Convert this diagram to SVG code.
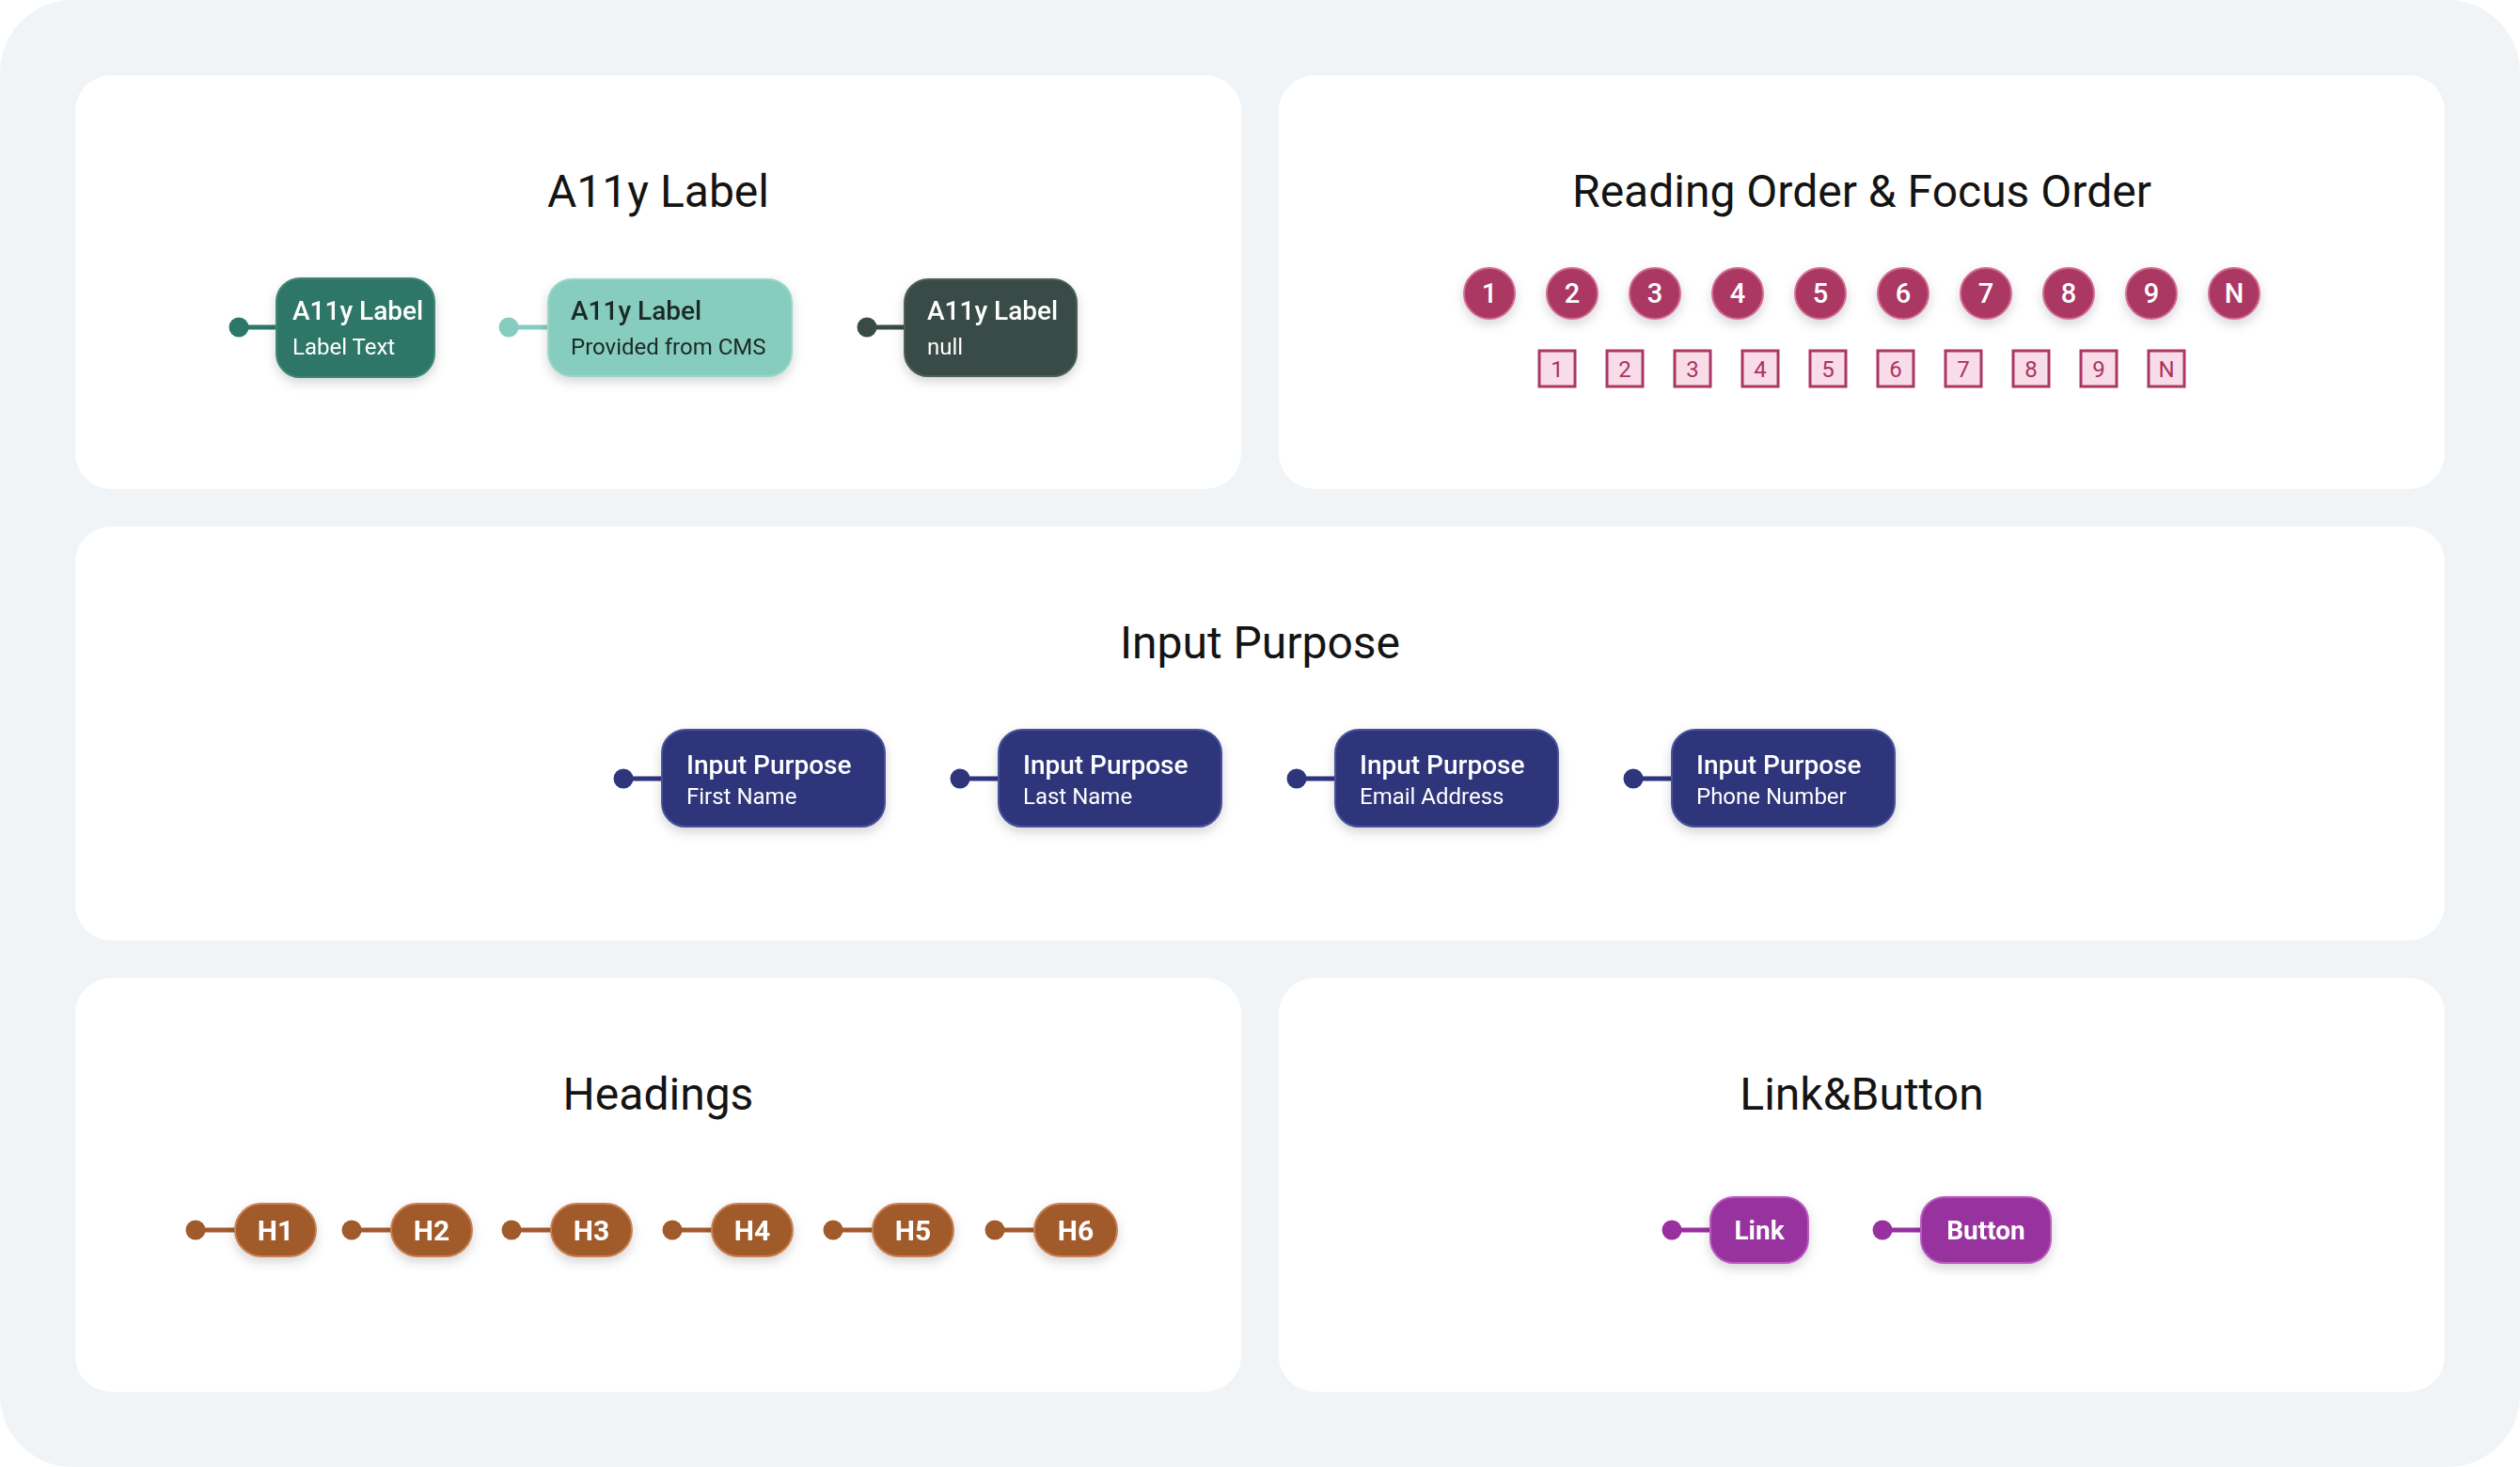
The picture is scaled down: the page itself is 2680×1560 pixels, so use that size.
<svg xmlns="http://www.w3.org/2000/svg" width="2680" height="1560" viewBox="0 0 2680 1560">
  <defs>
    <filter id="sh" x="-30%" y="-30%" width="160%" height="180%">
      <feDropShadow dx="0" dy="5" stdDeviation="6" flood-color="#000" flood-opacity="0.16"/>
    </filter>
    <style>
      .panel { fill: #FFFFFF; }
      .title { font-family: Roboto, "Liberation Sans", sans-serif; font-size: 48px; font-weight: 400; fill: #141414; text-anchor: middle; }
      .nt { font-family: Roboto, "Liberation Sans", sans-serif; font-size: 28px; font-weight: 500; }
      .ns { font-family: Roboto, "Liberation Sans", sans-serif; font-size: 24px; font-weight: 400; }
      .w { fill: #FFFFFF; }
      .circ { fill: #AA3764; stroke: #D36C92; stroke-width: 2; }
      .circt { font-family: Roboto, "Liberation Sans", sans-serif; font-size: 29px; font-weight: 500; fill: #FFFFFF; text-anchor: middle; }
      .sq { fill: #F8DDE8; stroke: #AA3764; stroke-width: 3; }
      .sqt { font-family: Roboto, "Liberation Sans", sans-serif; font-size: 24px; font-weight: 400; fill: #A8345F; text-anchor: middle; }
      .ip { fill: #2E357A; stroke: #4A529C; stroke-width: 2; }
      .hd { fill: #A15A2B; stroke: #C98052; stroke-width: 2; }
      .hdt { font-family: Roboto, "Liberation Sans", sans-serif; font-size: 30px; font-weight: 700; fill: #FFFFFF; text-anchor: middle; }
      .lb { fill: #98309F; stroke: #B95CBE; stroke-width: 2; }
      .lbt { font-family: Roboto, "Liberation Sans", sans-serif; font-size: 28px; font-weight: 700; fill: #FFFFFF; text-anchor: middle; }
    </style>
  </defs>

  <rect x="0" y="0" width="2680" height="1560" rx="77" fill="#F1F4F7"/>

  <!-- panels -->
  <rect class="panel" x="80" y="80" width="1240" height="440" rx="38"/>
  <rect class="panel" x="1360" y="80" width="1240" height="440" rx="38"/>
  <rect class="panel" x="80" y="560" width="2520" height="440" rx="38"/>
  <rect class="panel" x="80" y="1040" width="1240" height="440" rx="38"/>
  <rect class="panel" x="1360" y="1040" width="1240" height="440" rx="38"/>

  <text class="title" x="700" y="220">A11y Label</text>
  <text class="title" x="1980" y="220">Reading Order &amp; Focus Order</text>
  <text class="title" x="1340" y="700">Input Purpose</text>
  <text class="title" x="700" y="1180">Headings</text>
  <text class="title" x="1980" y="1180">Link&amp;Button</text>

  <!-- connectors -->
  <g id="connectors" stroke-width="5" stroke-linecap="round">
    <line x1="254" y1="348" x2="296" y2="348" stroke="#2D7768"/>
    <circle cx="254" cy="348" r="10.5" fill="#2D7768" stroke="none"/>
    <line x1="541" y1="348" x2="585" y2="348" stroke="#86CDBF"/>
    <circle cx="541" cy="348" r="10.5" fill="#86CDBF" stroke="none"/>
    <line x1="922" y1="348" x2="964" y2="348" stroke="#394B46"/>
    <circle cx="922" cy="348" r="10.5" fill="#394B46" stroke="none"/>

    <line x1="663" y1="828" x2="706" y2="828" stroke="#2E357A"/>
    <circle cx="663" cy="828" r="10.5" fill="#2E357A" stroke="none"/>
    <line x1="1021" y1="828" x2="1064" y2="828" stroke="#2E357A"/>
    <circle cx="1021" cy="828" r="10.5" fill="#2E357A" stroke="none"/>
    <line x1="1379" y1="828" x2="1422" y2="828" stroke="#2E357A"/>
    <circle cx="1379" cy="828" r="10.5" fill="#2E357A" stroke="none"/>
    <line x1="1737" y1="828" x2="1780" y2="828" stroke="#2E357A"/>
    <circle cx="1737" cy="828" r="10.5" fill="#2E357A" stroke="none"/>

    <line x1="208" y1="1308" x2="252" y2="1308" stroke="#A15A2B"/>
    <circle cx="208" cy="1308" r="10.5" fill="#A15A2B" stroke="none"/>
    <line x1="374" y1="1308" x2="418" y2="1308" stroke="#A15A2B"/>
    <circle cx="374" cy="1308" r="10.5" fill="#A15A2B" stroke="none"/>
    <line x1="544" y1="1308" x2="588" y2="1308" stroke="#A15A2B"/>
    <circle cx="544" cy="1308" r="10.5" fill="#A15A2B" stroke="none"/>
    <line x1="715" y1="1308" x2="759" y2="1308" stroke="#A15A2B"/>
    <circle cx="715" cy="1308" r="10.5" fill="#A15A2B" stroke="none"/>
    <line x1="886" y1="1308" x2="930" y2="1308" stroke="#A15A2B"/>
    <circle cx="886" cy="1308" r="10.5" fill="#A15A2B" stroke="none"/>
    <line x1="1058" y1="1308" x2="1102" y2="1308" stroke="#A15A2B"/>
    <circle cx="1058" cy="1308" r="10.5" fill="#A15A2B" stroke="none"/>

    <line x1="1778" y1="1308" x2="1821" y2="1308" stroke="#98309F"/>
    <circle cx="1778" cy="1308" r="10.5" fill="#98309F" stroke="none"/>
    <line x1="2002" y1="1308" x2="2045" y2="1308" stroke="#98309F"/>
    <circle cx="2002" cy="1308" r="10.5" fill="#98309F" stroke="none"/>
  </g>

  <!-- A11y Label nodes -->
  <g id="a11y-1" filter="url(#sh)">
    <rect x="294" y="296" width="168" height="105" rx="25" fill="#2D7768" stroke="#3F8777" stroke-width="2"/>
    <text class="nt w" x="311" y="340">A11y Label</text>
    <text class="ns w" x="311" y="377">Label Text</text>
  </g>
  <g id="a11y-2" filter="url(#sh)">
    <rect x="583" y="297" width="259" height="103" rx="25" fill="#86CDBF" stroke="#9AD7CA" stroke-width="2"/>
    <text class="nt" x="607" y="340" fill="#1B2925">A11y Label</text>
    <text class="ns" x="607" y="377" fill="#1B2925">Provided from CMS</text>
  </g>
  <g id="a11y-3" filter="url(#sh)">
    <rect x="962" y="297" width="183" height="103" rx="25" fill="#394B46" stroke="#4D5E59" stroke-width="2"/>
    <text class="nt w" x="986" y="340">A11y Label</text>
    <text class="ns w" x="986" y="377">null</text>
  </g>

  <!-- Reading order circles -->
  <g id="reading-order">
    <g filter="url(#sh)">
      <circle class="circ" cx="1584" cy="312" r="27"/>
      <circle class="circ" cx="1672" cy="312" r="27"/>
      <circle class="circ" cx="1760" cy="312" r="27"/>
      <circle class="circ" cx="1848" cy="312" r="27"/>
      <circle class="circ" cx="1936" cy="312" r="27"/>
      <circle class="circ" cx="2024" cy="312" r="27"/>
      <circle class="circ" cx="2112" cy="312" r="27"/>
      <circle class="circ" cx="2200" cy="312" r="27"/>
      <circle class="circ" cx="2288" cy="312" r="27"/>
      <circle class="circ" cx="2376" cy="312" r="27"/>
    </g>
    <text class="circt" x="1584" y="322">1</text>
    <text class="circt" x="1672" y="322">2</text>
    <text class="circt" x="1760" y="322">3</text>
    <text class="circt" x="1848" y="322">4</text>
    <text class="circt" x="1936" y="322">5</text>
    <text class="circt" x="2024" y="322">6</text>
    <text class="circt" x="2112" y="322">7</text>
    <text class="circt" x="2200" y="322">8</text>
    <text class="circt" x="2288" y="322">9</text>
    <text class="circt" x="2376" y="322">N</text>
  </g>
  <g id="focus-order">
    <rect class="sq" x="1637" y="373" width="38" height="38"/>
    <rect class="sq" x="1709" y="373" width="38" height="38"/>
    <rect class="sq" x="1781" y="373" width="38" height="38"/>
    <rect class="sq" x="1853" y="373" width="38" height="38"/>
    <rect class="sq" x="1925" y="373" width="38" height="38"/>
    <rect class="sq" x="1997" y="373" width="38" height="38"/>
    <rect class="sq" x="2069" y="373" width="38" height="38"/>
    <rect class="sq" x="2141" y="373" width="38" height="38"/>
    <rect class="sq" x="2213" y="373" width="38" height="38"/>
    <rect class="sq" x="2285" y="373" width="38" height="38"/>
    <text class="sqt" x="1656" y="401">1</text>
    <text class="sqt" x="1728" y="401">2</text>
    <text class="sqt" x="1800" y="401">3</text>
    <text class="sqt" x="1872" y="401">4</text>
    <text class="sqt" x="1944" y="401">5</text>
    <text class="sqt" x="2016" y="401">6</text>
    <text class="sqt" x="2088" y="401">7</text>
    <text class="sqt" x="2160" y="401">8</text>
    <text class="sqt" x="2232" y="401">9</text>
    <text class="sqt" x="2304" y="401">N</text>
  </g>

  <!-- Input Purpose nodes -->
  <g id="ip-1" filter="url(#sh)">
    <rect class="ip" x="704" y="776" width="237" height="103" rx="25"/>
    <text class="nt w" x="730" y="823">Input Purpose</text>
    <text class="ns w" x="730" y="855">First Name</text>
  </g>
  <g id="ip-2" filter="url(#sh)">
    <rect class="ip" x="1062" y="776" width="237" height="103" rx="25"/>
    <text class="nt w" x="1088" y="823">Input Purpose</text>
    <text class="ns w" x="1088" y="855">Last Name</text>
  </g>
  <g id="ip-3" filter="url(#sh)">
    <rect class="ip" x="1420" y="776" width="237" height="103" rx="25"/>
    <text class="nt w" x="1446" y="823">Input Purpose</text>
    <text class="ns w" x="1446" y="855">Email Address</text>
  </g>
  <g id="ip-4" filter="url(#sh)">
    <rect class="ip" x="1778" y="776" width="237" height="103" rx="25"/>
    <text class="nt w" x="1804" y="823">Input Purpose</text>
    <text class="ns w" x="1804" y="855">Phone Number</text>
  </g>

  <!-- Headings -->
  <g id="h1" filter="url(#sh)">
    <rect class="hd" x="250" y="1280" width="86" height="56" rx="28"/>
    <text class="hdt" x="293" y="1319">H1</text>
  </g>
  <g id="h2" filter="url(#sh)">
    <rect class="hd" x="416" y="1280" width="86" height="56" rx="28"/>
    <text class="hdt" x="459" y="1319">H2</text>
  </g>
  <g id="h3" filter="url(#sh)">
    <rect class="hd" x="586" y="1280" width="86" height="56" rx="28"/>
    <text class="hdt" x="629" y="1319">H3</text>
  </g>
  <g id="h4" filter="url(#sh)">
    <rect class="hd" x="757" y="1280" width="86" height="56" rx="28"/>
    <text class="hdt" x="800" y="1319">H4</text>
  </g>
  <g id="h5" filter="url(#sh)">
    <rect class="hd" x="928" y="1280" width="86" height="56" rx="28"/>
    <text class="hdt" x="971" y="1319">H5</text>
  </g>
  <g id="h6" filter="url(#sh)">
    <rect class="hd" x="1100" y="1280" width="88" height="56" rx="28"/>
    <text class="hdt" x="1144" y="1319">H6</text>
  </g>

  <!-- Link & Button -->
  <g id="link" filter="url(#sh)">
    <rect class="lb" x="1819" y="1273" width="104" height="70" rx="25"/>
    <text class="lbt" x="1871" y="1318">Link</text>
  </g>
  <g id="button" filter="url(#sh)">
    <rect class="lb" x="2043" y="1273" width="138" height="70" rx="25"/>
    <text class="lbt" x="2112" y="1318">Button</text>
  </g>
</svg>
